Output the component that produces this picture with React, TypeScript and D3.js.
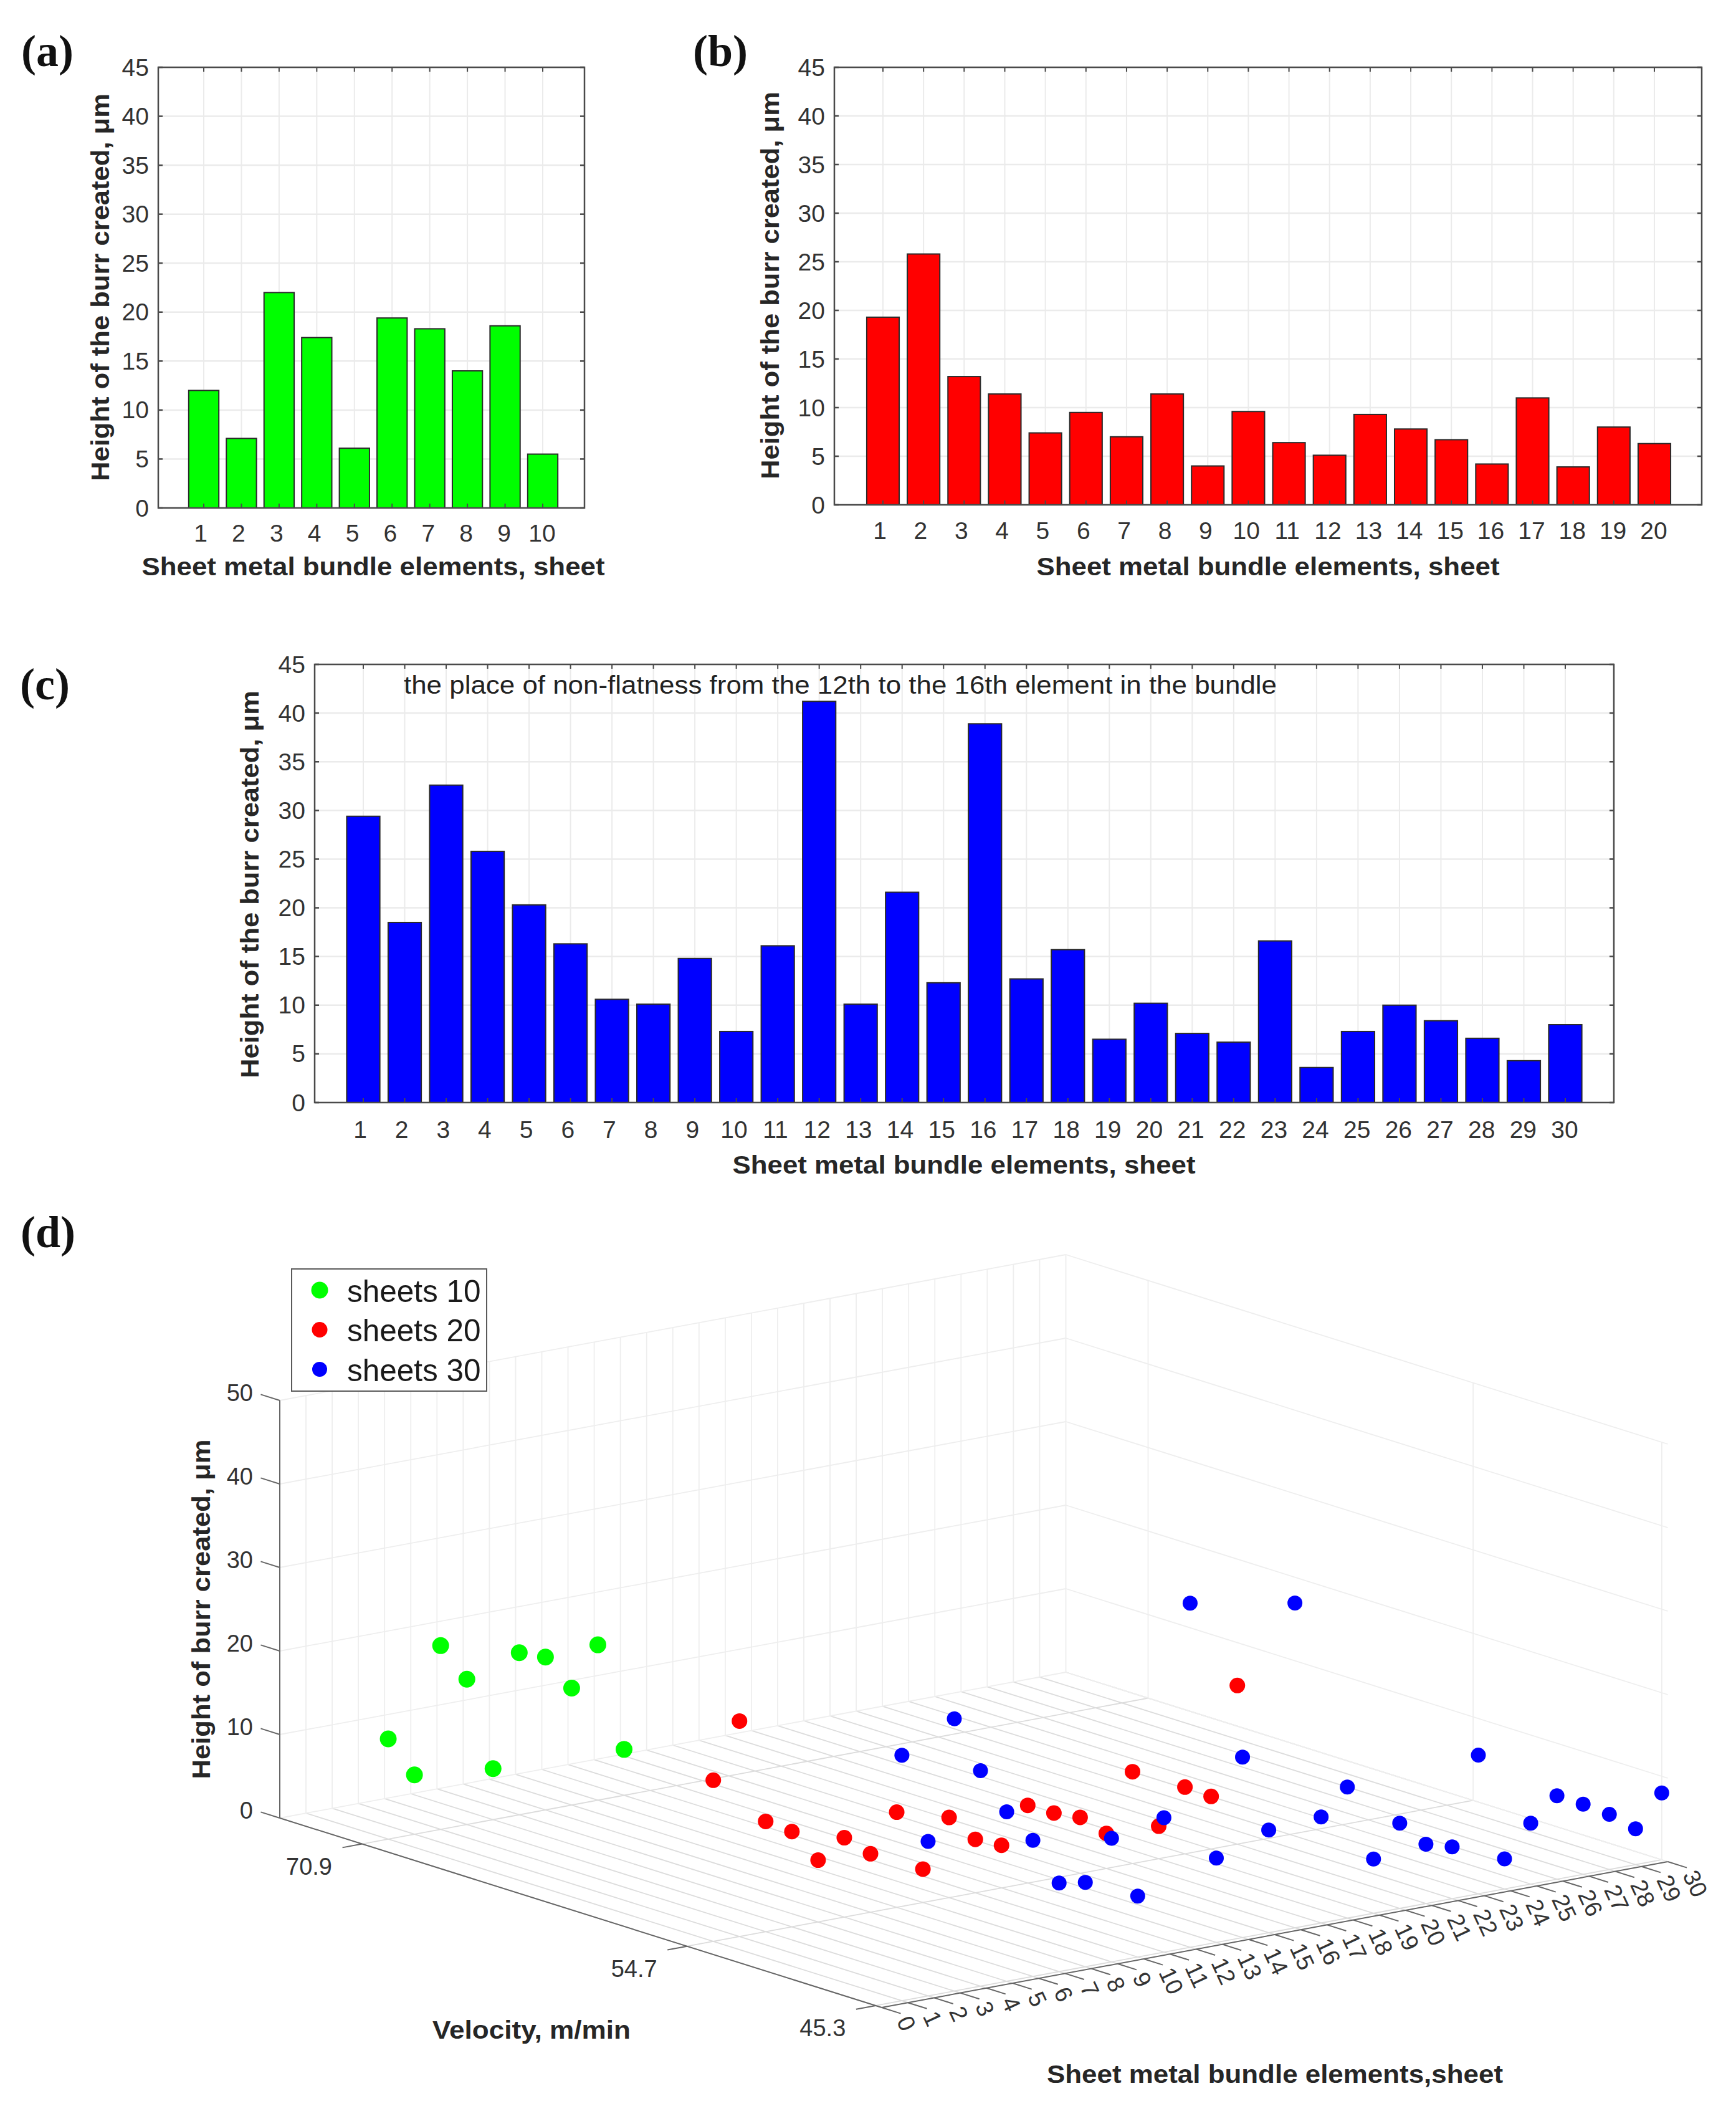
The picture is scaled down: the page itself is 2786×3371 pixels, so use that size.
import React from "react";
import * as d3 from "d3";

const valuesA = [12, 7.1, 22, 17.4, 6.1, 19.4, 18.3, 14, 18.6, 5.5];
const valuesB = [19.3, 25.8, 13.2, 11.4, 7.4, 9.5, 7, 11.4, 4, 9.6, 6.4, 5.1, 9.3, 7.8, 6.7, 4.2, 11, 3.9, 8, 6.3];
const valuesC = [29.4, 18.5, 32.6, 25.8, 20.3, 16.3, 10.6, 10.1, 14.8, 7.3, 16.1, 41.2, 10.1, 21.6, 12.3, 38.9, 12.7, 15.7, 6.5, 10.2, 7.1, 6.2, 16.6, 3.6, 7.3, 10, 8.4, 6.6, 4.3, 8];
const scatterRedExtra = [19];
const yTicks = [0, 5, 10, 15, 20, 25, 30, 35, 40, 45];
const zTicks = [0, 10, 20, 30, 40, 50];
const velocityTicks = [70.9, 54.7, 45.3];
const legendLabels = ["sheets 10", "sheets 20", "sheets 30"];
const GREEN = "#00ff00", RED = "#ff0000", BLUE = "#0000ff";
const SANS = "'Liberation Sans', Arial, sans-serif";
const SERIF = "'Liberation Serif', serif";
const AX = "#4a4a4a", GRID = "#ebebeb", TXT = "#333333";

type BarCfg = { values: number[]; color: string; left: number; right: number; top: number; bottom: number; x1: number; xN: number;
  yLabelX: number; yLabelY: number; xLabelX: number; xLabelY: number; xTickY: number };

function BarPanel({ c }: { c: BarCfg }) {
  const n = c.values.length;
  const x = d3.scaleLinear().domain([1, n]).range([c.x1, c.xN]);
  const xLab = d3.scaleLinear().domain([1, n]).range([c.x1 - 5, c.xN - 1]);
  const y = d3.scaleLinear().domain([0, 45]).range([c.bottom, c.top]);
  const w = (x(2) - x(1)) * 0.8;
  const cats = d3.range(1, n + 1);
  return (
    <g fontFamily={SANS}>
      <rect x={c.left} y={c.top} width={c.right - c.left} height={c.bottom - c.top} fill="#fff" />
      {yTicks.map(t => <line key={t} x1={c.left} x2={c.right} y1={y(t)} y2={y(t)} stroke={GRID} strokeWidth={2.5} />)}
      {cats.map(t => <line key={t} x1={x(t)} x2={x(t)} y1={c.top} y2={c.bottom} stroke={GRID} strokeWidth={2} />)}
      {c.values.map((v, i) => (
        <rect key={i} x={x(i + 1) - w / 2} y={y(v)} width={w} height={c.bottom - y(v)} fill={c.color} stroke="#2a2a2a" strokeWidth={2} />
      ))}
      <rect x={c.left} y={c.top} width={c.right - c.left} height={c.bottom - c.top} fill="none" stroke={AX} strokeWidth={2.5} />
      {yTicks.map(t => (
        <g key={t} stroke={AX} strokeWidth={2.5}>
          <line x1={c.left} x2={c.left + 7} y1={y(t)} y2={y(t)} />
          <line x1={c.right - 7} x2={c.right} y1={y(t)} y2={y(t)} />
        </g>
      ))}
      {cats.map(t => (
        <g key={t} stroke={AX} strokeWidth={2}>
          <line x1={x(t)} x2={x(t)} y1={c.bottom - 7} y2={c.bottom} />
          <line x1={x(t)} x2={x(t)} y1={c.top} y2={c.top + 7} />
        </g>
      ))}
      {yTicks.map(t => (
        <text key={t} x={c.left - 15} y={y(t)} textAnchor="end" dominantBaseline="central" fontSize={39} fill={TXT}>{t}</text>
      ))}
      {cats.map(t => (
        <text key={t} x={xLab(t)} y={c.xTickY} textAnchor="middle" dominantBaseline="central" fontSize={39} fill={TXT}>{t}</text>
      ))}
      <text transform={`translate(${c.yLabelX},${c.yLabelY}) rotate(-90)`} textAnchor="middle" dominantBaseline="central" fontSize={41} fontWeight="bold" fill="#262626" textLength={622} lengthAdjust="spacingAndGlyphs">Height of the burr created, μm</text>
      <text x={c.xLabelX} y={c.xLabelY} textAnchor="middle" dominantBaseline="central" fontSize={41} fontWeight="bold" fill="#262626" textLength={743} lengthAdjust="spacingAndGlyphs">Sheet metal bundle elements, sheet</text>
    </g>
  );
}

const panelA: BarCfg = { values: valuesA, color: GREEN, left: 254, right: 938, top: 108, bottom: 815, x1: 327, xN: 871, yLabelX: 161, yLabelY: 461, xLabelX: 599, xLabelY: 909, xTickY: 855 };
const panelB: BarCfg = { values: valuesB, color: RED, left: 1339, right: 2731, top: 108, bottom: 810, x1: 1417, xN: 2655, yLabelX: 1236, yLabelY: 458, xLabelX: 2035, xLabelY: 909, xTickY: 851 };
const panelC: BarCfg = { values: valuesC, color: BLUE, left: 505, right: 2590, top: 1066, bottom: 1769, x1: 583, xN: 2512, yLabelX: 401, yLabelY: 1419, xLabelX: 1547, xLabelY: 1869, xTickY: 1812 };

// Panel (d): orthographic projection of the 3-D box
const origin = { x: 449, y: 2917 };
const xS = d3.scaleLinear().domain([0, 30]).range([0, 1261.5]);
const tV = d3.scaleLinear().domain([75, 45]).range([0, 1]);
const zS = d3.scaleLinear().domain([0, 50]).range([0, -670]);
function proj(sheet: number, v: number, z: number): [number, number] {
  const s = xS(sheet), t = tV(v);
  return [origin.x + s + t * 966, origin.y - s * (234 / 1261.5) + t * 304 + zS(z)];
}
function L({ a, b, stroke = GRID, w = 1.8 }: { a: [number, number]; b: [number, number]; stroke?: string; w?: number }) {
  return <line x1={a[0]} y1={a[1]} x2={b[0]} y2={b[1]} stroke={stroke} strokeWidth={w} />;
}

function Panel3D() {
  const sheets = d3.range(0, 31);
  const series = [
    { vals: valuesA, v: velocityTicks[0], color: GREEN, r: 13.5 },
    { vals: [...valuesB, ...scatterRedExtra], v: velocityTicks[1], color: RED, r: 12.5 },
    { vals: valuesC, v: velocityTicks[2], color: BLUE, r: 12 },
  ];
  const dirV = [966 / 1012.7, 304 / 1012.7];
  const dirX = [1261.5 / 1283, -234 / 1283];
  const tick = 32;
  const FLOOR = "#dcdcdc", WALL = "#eeeeee", AXC = "#666";
  return (
    <g fontFamily={SANS}>
      {sheets.map(s => <g key={s}>
        <L a={proj(s, 75, 0)} b={proj(s, 45, 0)} stroke={FLOOR} />
        <L a={proj(s, 75, 0)} b={proj(s, 75, 50)} stroke={WALL} />
      </g>)}
      {velocityTicks.map(v => <g key={v}>
        <L a={proj(0, v, 0)} b={proj(30, v, 0)} stroke={FLOOR} />
        <L a={proj(30, v, 0)} b={proj(30, v, 50)} stroke={WALL} />
      </g>)}
      {zTicks.map(z => <g key={z}>
        <L a={proj(0, 75, z)} b={proj(30, 75, z)} stroke={WALL} />
        <L a={proj(30, 75, z)} b={proj(30, 45, z)} stroke={WALL} />
      </g>)}
      <L a={proj(0, 75, 0)} b={proj(0, 75, 50)} stroke={AXC} w={2} />
      <L a={proj(0, 75, 0)} b={proj(0, 45, 0)} stroke={AXC} w={2} />
      <L a={proj(0, 45, 0)} b={proj(30, 45, 0)} stroke={AXC} w={2} />
      {zTicks.map(z => {
        const p = proj(0, 75, z);
        return <g key={z}>
          <L a={p} b={[p[0] - tick * dirV[0], p[1] - tick * dirV[1]]} stroke={AXC} w={2} />
          <text x={p[0] - 43} y={p[1] - 12} textAnchor="end" dominantBaseline="central" fontSize={38} fill={TXT}>{z}</text>
        </g>;
      })}
      {velocityTicks.map(v => {
        const p = proj(0, v, 0);
        return <g key={v}>
          <L a={p} b={[p[0] - tick * dirX[0], p[1] - tick * dirX[1]]} stroke={AXC} w={2} />
          <text x={p[0] - 85} y={p[1] + 36} textAnchor="middle" dominantBaseline="central" fontSize={38} fill={TXT}>{v}</text>
        </g>;
      })}
      {sheets.map(s => {
        const p = proj(s, 45, 0);
        return <g key={s}>
          <L a={p} b={[p[0] + tick * dirV[0], p[1] + tick * dirV[1]]} stroke={AXC} w={2} />
          <text transform={`translate(${p[0] + 35},${p[1] + 16}) rotate(65)`} textAnchor="start" dominantBaseline="central" fontSize={38} fill={TXT}>{s}</text>
        </g>;
      })}
      {series.map(sr => sr.vals.map((z, i) => {
        const p = proj(i + 1, sr.v, z);
        return <circle key={sr.color + i} cx={p[0]} cy={p[1]} r={sr.r} fill={sr.color} />;
      }))}
      <rect x={468} y={2036} width={313} height={196} fill="#fff" stroke="#5a5a5a" strokeWidth={2} />
      {legendLabels.map((l, i) => <g key={l}>
        <circle cx={513} cy={2070 + i * 63.5} r={series[i].r} fill={series[i].color} />
        <text x={557} y={2071 + i * 63.5} dominantBaseline="central" fontSize={49.5} fill="#1a1a1a">{l}</text>
      </g>)}
      <text transform="translate(323,2582) rotate(-90)" textAnchor="middle" dominantBaseline="central" fontSize={41} fontWeight="bold" fill="#262626" textLength={545} lengthAdjust="spacingAndGlyphs">Height of burr created, μm</text>
      <text x={853} y={3257} textAnchor="middle" dominantBaseline="central" fontSize={41} fontWeight="bold" fill="#262626" textLength={318} lengthAdjust="spacingAndGlyphs">Velocity, m/min</text>
      <text x={2046} y={3328} textAnchor="middle" dominantBaseline="central" fontSize={41} fontWeight="bold" fill="#262626" textLength={732} lengthAdjust="spacingAndGlyphs">Sheet metal bundle elements,sheet</text>
    </g>
  );
}

const panelLetters = [
  { t: "(a)", x: 34, y: 82 },
  { t: "(b)", x: 1112, y: 82 },
  { t: "(c)", x: 32, y: 1098 },
  { t: "(d)", x: 33, y: 1977 },
];

export default function App() {
  return (
    <svg width={2786} height={3371} viewBox="0 0 2786 3371" style={{ position: "absolute", left: 0, top: 0, background: "#fff" }}>
      {panelLetters.map(p => (
        <text key={p.t} x={p.x} y={p.y} fontFamily={SERIF} fontWeight="bold" fontSize={72} dominantBaseline="central" fill="#111">{p.t}</text>
      ))}
      <BarPanel c={panelA} />
      <BarPanel c={panelB} />
      <BarPanel c={panelC} />
      <text x={648} y={1099} fontFamily={SANS} fontSize={40} dominantBaseline="central" fill="#222" textLength={1401} lengthAdjust="spacingAndGlyphs">the place of non-flatness from the 12th to the 16th element in the bundle</text>
      <Panel3D />
    </svg>
  );
}
